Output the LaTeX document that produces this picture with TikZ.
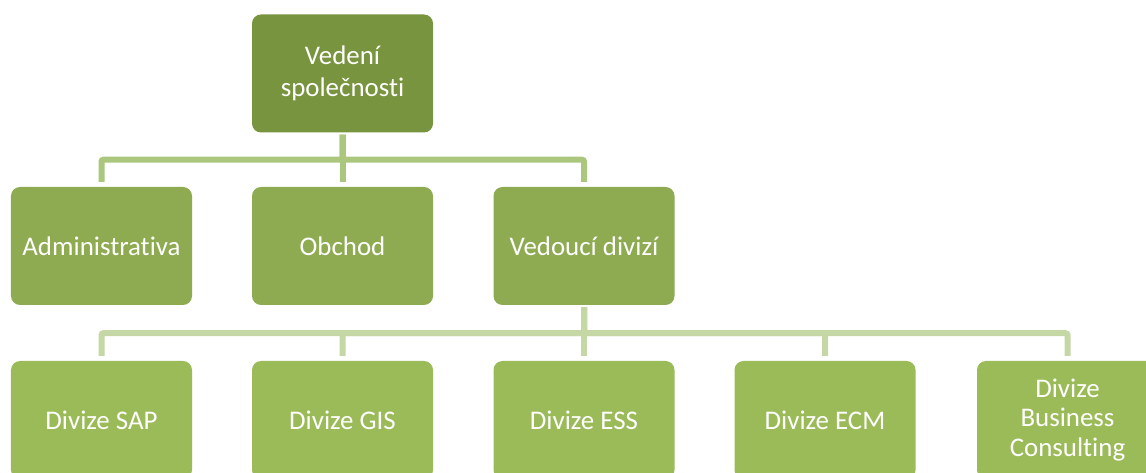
\documentclass[tikz,border=0pt]{standalone}
\usepackage{fontspec}
\setmainfont{Carlito}[Ligatures={NoCommon}]
\definecolor{lvlone}{HTML}{78943E}
\definecolor{lvltwo}{HTML}{8EAB52}
\definecolor{lvlthree}{HTML}{9BBB59}
\definecolor{linkup}{HTML}{ABC77E}
\definecolor{linkdown}{HTML}{C4D7A5}
\tikzset{
  unit/.style={rectangle, rounded corners=9bp, minimum width=181bp, minimum height=118bp,
    inner sep=0pt, align=center, text=white, font=\fontsize{27}{31.5}\selectfont},
  boss/.style={unit, fill=lvlone},
  mid/.style={unit, fill=lvltwo},
  leaf/.style={unit, fill=lvlthree},
  link/.style={line width=6bp, rounded corners=2bp, shorten <=2bp, shorten >=5bp},
}
\begin{document}
\begin{tikzpicture}[x=1bp, y=-1bp]
\useasboundingbox (0,0) rectangle (1146,473);
\clip (0,0) rectangle (1146,473);

% management
\node[boss] (vs) at (342.5,73.5) {Vedení\\společnosti};

% second level
\node[mid] (adm) at (101.5,246) {Administrativa};
\node[mid] (obc) at (342.5,246) {Obchod};
\node[mid] (ved) at (584,246) {Vedoucí divizí};

% divisions
\node[leaf] (sap) at (101.5,420) {Divize SAP};
\node[leaf] (gis) at (342.5,420) {Divize GIS};
\node[leaf] (ess) at (584,420) {Divize ESS};
\node[leaf] (ecm) at (825,420) {Divize ECM};
\node[leaf, font=\fontsize{27}{30}\selectfont] (bc) at (1067.5,420) {Divize\\Business\\Consulting};

% connectors, management to second level
\foreach \c in {adm,obc,ved}
  \draw[link, linkup] (vs.south) -- ++(0,27) -| (\c.north);

% connectors, division head to divisions
\foreach \c in {sap,gis,ess,ecm,bc}
  \draw[link, linkdown] (ved.south) -- ++(0,28) -| (\c.north);
\end{tikzpicture}
\end{document}
